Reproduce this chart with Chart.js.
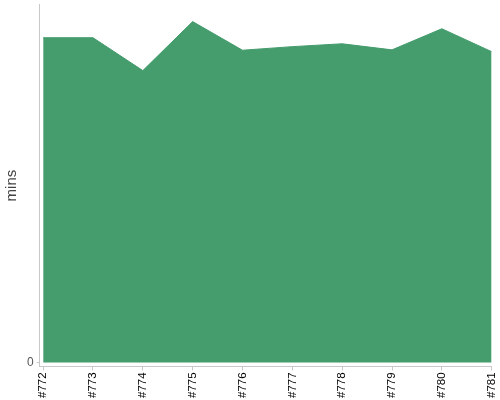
<!DOCTYPE html>
<html>
<head>
<meta charset="utf-8">
<script src="https://cdn.jsdelivr.net/npm/chart.js@4"></script>
<style>
  html, body { margin: 0; padding: 0; background: #fff; }
  #wrap { width: 500px; height: 400px; position: relative; }
</style>
</head>
<body>
<div id="wrap"><canvas id="buildChart"></canvas></div>
<script>
// build numbers along the x axis
const builds = ['#772', '#773', '#774', '#775', '#776', '#777', '#778', '#779', '#780', '#781'];
// build duration
const minutes = [90.8, 90.8, 81.6, 95.3, 87.3, 88.3, 89.1, 87.4, 93.3, 86.9];
const yTicks = [0];

const AXIS = '#c8c8c8';
const FONT = 'Liberation Sans, Arial, sans-serif';

new Chart(document.getElementById('buildChart'), {
  type: 'line',
  data: {
    datasets: [{
      label: 'mins',
      data: minutes.map((v, i) => ({ x: i, y: v })),
      fill: 'origin',
      backgroundColor: '#459c6d',
      borderColor: '#459c6d',
      borderWidth: 1,
      pointRadius: 0,
      tension: 0
    }]
  },
  options: {
    responsive: true,
    maintainAspectRatio: false,
    animation: false,
    layout: { padding: { top: 0, right: 0, bottom: 0, left: 3 } },
    plugins: { legend: { display: false }, tooltip: { enabled: false } },
    scales: {
      x: {
        type: 'linear',
        min: -0.07,
        max: builds.length - 1,
        grid: { display: true, drawOnChartArea: false, drawTicks: true, tickLength: 4, color: AXIS },
        border: { display: true, color: AXIS },
        afterBuildTicks: s => { s.ticks = builds.map((b, i) => ({ value: i })); },
        ticks: {
          autoSkip: false,
          minRotation: 90,
          maxRotation: 90,
          padding: 2,
          color: '#000',
          font: { family: FONT, size: 11.5, lineHeight: 0.55 },
          callback: v => builds[v]
        }
      },
      y: {
        min: -1.1,
        max: 100,
        grid: { display: true, drawOnChartArea: false, drawTicks: true, tickLength: 3, color: AXIS },
        border: { display: true, color: AXIS },
        afterBuildTicks: s => { s.ticks = yTicks.map(v => ({ value: v })); },
        ticks: {
          padding: 3,
          color: '#555',
          font: { family: FONT, size: 12, lineHeight: 0.3 }
        },
        title: {
          display: true,
          text: 'mins',
          color: '#444',
          padding: { top: 0, bottom: 3 },
          font: { family: FONT, size: 15 }
        }
      }
    }
  }
});
</script>
</body>
</html>
